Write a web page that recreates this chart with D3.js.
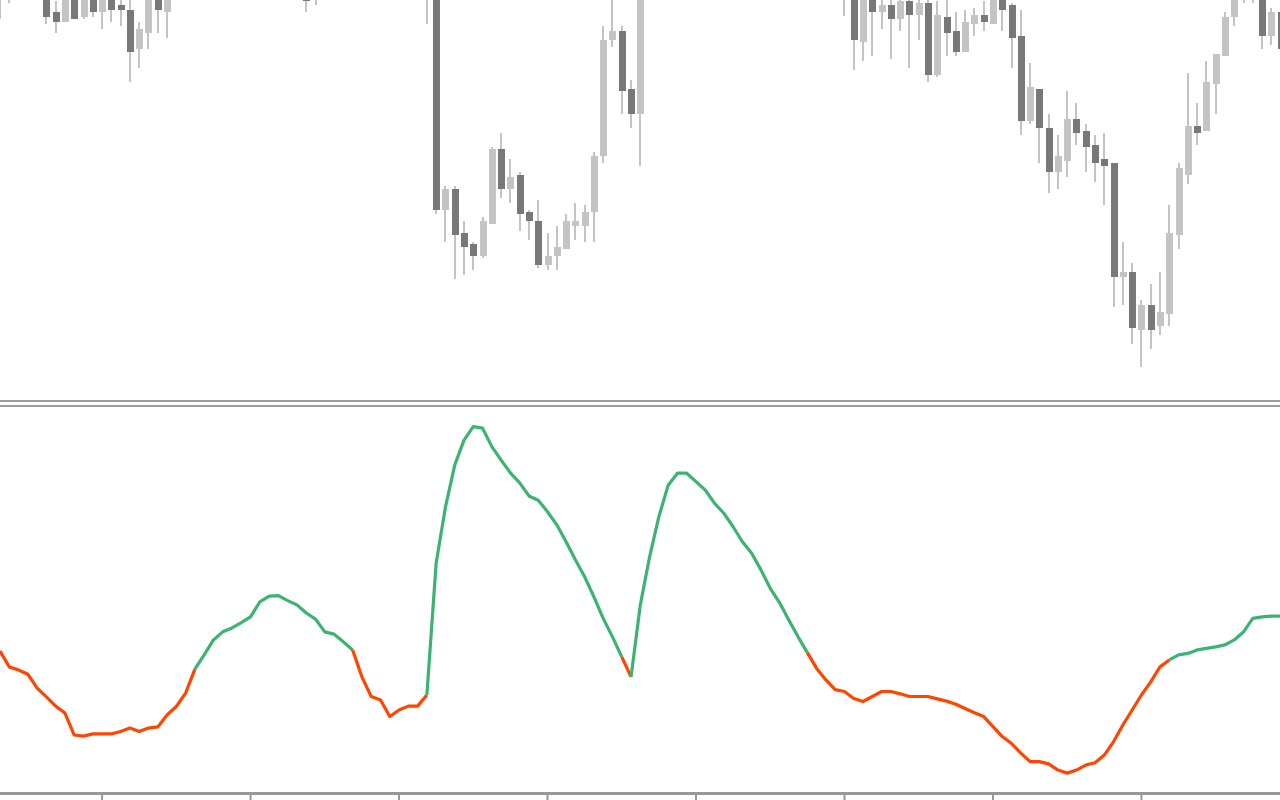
<!DOCTYPE html>
<html><head><meta charset="utf-8">
<script src="https://cdn.jsdelivr.net/npm/d3@7"></script>
<style>html,body{margin:0;padding:0;background:#fff;overflow:hidden}</style>
</head><body>
<svg id="chart" width="1280" height="800"></svg>
<script>
// ---- price bars (OHLC) ----
const open = [
 1.1005,1.1010,1.1020,1.1040,1.1020,1.1015,1.0988,1.0978,1.1010,1.0983,
 1.1005,1.0988,1.1008,1.0995,1.0990,1.0951,1.0967,1.1006,1.0988,1.1010,
 1.1022,1.1035,1.1055,1.1050,1.1072,1.1084,1.1080,1.1100,1.1118,1.1108,
 1.1092,1.1075,1.1068,1.1045,1.1003,1.1025,1.1018,1.1012,1.1016,1.1006,
 1.1020,1.1010,1.1028,1.1040,1.1030,1.1044,1.1038,1.1050,1.0790,1.0811,
 1.0767,1.0756,1.0744,1.0776,1.0851,1.0811,1.0825,1.0788,1.0779,1.0735,
 1.0744,1.0751,1.0774,1.0774,1.0788,1.0844,1.0960,1.0969,1.0911,1.0886,
 1.1020,1.1050,1.1078,1.1070,1.1086,1.1076,1.1064,1.1072,1.1058,1.1046,
 1.1052,1.1036,1.1042,1.1028,1.1034,1.1024,1.1030,1.1016,1.1024,1.1018,
 1.1022,1.1008,1.1020,1.0958,1.1005,1.0988,1.0995,1.0981,1.0999,1.0985,
 1.0997,1.0925,1.0983,1.0969,1.0948,1.0976,1.0985,1.0976,1.1008,1.0995,
 1.0964,1.0879,1.0911,1.0872,1.0828,1.0839,1.0881,1.0869,1.0855,1.0841,
 1.0837,1.0723,1.0728,1.0670,1.0695,1.0674,1.0686,1.0765,1.0825,1.0874,
 1.0869,1.0916,1.0944,1.0983,1.1010,1.1015,1.1025,1.0964,1.0988
];
const high = [
 1.1040,1.1035,1.1050,1.1055,1.1035,1.1025,1.0999,1.1015,1.1018,1.1012,
 1.1014,1.1016,1.1014,1.1006,1.1004,1.0978,1.1012,1.1014,1.1020,1.1028,
 1.1040,1.1060,1.1070,1.1078,1.1090,1.1096,1.1105,1.1125,1.1130,1.1120,
 1.1100,1.1090,1.1075,1.1050,1.1035,1.1040,1.1030,1.1022,1.1020,1.1026,
 1.1030,1.1035,1.1045,1.1048,1.1050,1.1055,1.1055,1.1060,1.0814,1.0814,
 1.0779,1.0758,1.0783,1.0853,1.0867,1.0841,1.0828,1.0790,1.0800,1.0767,
 1.0774,1.0786,1.0797,1.0795,1.0848,1.0974,1.1005,1.0974,1.0920,1.1030,
 1.1060,1.1085,1.1095,1.1092,1.1100,1.1088,1.1080,1.1082,1.1066,1.1060,
 1.1058,1.1048,1.1050,1.1040,1.1044,1.1038,1.1036,1.1030,1.1034,1.1028,
 1.1032,1.1030,1.1028,1.1015,1.1012,1.1004,1.1003,1.1006,1.1008,1.1005,
 1.1006,1.0999,1.1004,1.0988,1.0990,1.0992,1.0999,1.1015,1.1014,1.0997,
 1.0990,1.0937,1.0911,1.0886,1.0865,1.0909,1.0897,1.0876,1.0865,1.0867,
 1.0837,1.0758,1.0737,1.0700,1.0716,1.0728,1.0795,1.0837,1.0927,1.0897,
 1.0939,1.0946,1.0988,1.1020,1.1030,1.1035,1.1030,1.0992,1.0995
];
const low = [
 1.0981,1.0997,1.1008,1.1015,1.1005,1.0976,1.0967,1.0978,1.0981,1.0981,
 1.0983,1.0971,1.0978,1.0974,1.0918,1.0932,1.0951,1.0967,1.0962,1.1004,
 1.1015,1.1030,1.1045,1.1044,1.1066,1.1074,1.1076,1.1095,1.1100,1.1088,
 1.1070,1.1060,1.1040,1.0988,1.0995,1.1012,1.1008,1.1004,1.1002,1.1003,
 1.1005,1.1006,1.1020,1.1022,1.1025,1.1030,1.0976,1.0786,1.0758,1.0721,
 1.0725,1.0730,1.0742,1.0776,1.0802,1.0797,1.0769,1.0760,1.0732,1.0730,
 1.0730,1.0751,1.0760,1.0758,1.0758,1.0837,1.0953,1.0886,1.0872,1.0834,
 1.1015,1.1045,1.1060,1.1062,1.1070,1.1058,1.1055,1.1052,1.1040,1.1038,
 1.1030,1.1028,1.1022,1.1018,1.1020,1.1015,1.1010,1.1008,1.1012,1.1006,
 1.1005,1.0984,1.0930,1.0939,1.0944,1.0971,1.0941,1.0969,1.0932,1.0960,
 1.0918,1.0923,1.0944,1.0944,1.0948,1.0964,1.0969,1.0976,1.0969,1.0932,
 1.0865,1.0876,1.0837,1.0807,1.0811,1.0823,1.0855,1.0828,1.0818,1.0795,
 1.0693,1.0695,1.0656,1.0633,1.0651,1.0665,1.0674,1.0751,1.0816,1.0855,
 1.0869,1.0886,1.0944,1.0974,1.0997,1.0997,1.0951,1.0955,1.0940
];
const close = [
 1.1030,1.1025,1.1040,1.1020,1.1010,1.0983,1.0978,1.1010,1.0981,1.1005,
 1.0988,1.1008,1.0990,1.0990,1.0948,1.0971,1.1006,1.0990,1.1010,1.1022,
 1.1035,1.1055,1.1050,1.1072,1.1084,1.1080,1.1100,1.1118,1.1108,1.1092,
 1.1075,1.1068,1.1045,1.0999,1.1025,1.1018,1.1012,1.1016,1.1006,1.1020,
 1.1010,1.1028,1.1040,1.1030,1.1044,1.1038,1.1050,1.0790,1.0811,1.0765,
 1.0753,1.0744,1.0779,1.0851,1.0811,1.0823,1.0786,1.0779,1.0735,1.0744,
 1.0753,1.0779,1.0779,1.0788,1.0844,1.0960,1.0969,1.0909,1.0886,1.1020,
 1.1050,1.1078,1.1070,1.1086,1.1076,1.1064,1.1072,1.1058,1.1046,1.1052,
 1.1036,1.1042,1.1028,1.1034,1.1024,1.1030,1.1016,1.1024,1.1018,1.1022,
 1.1014,1.1020,1.0960,1.1005,1.0988,1.0995,1.0981,1.0999,1.0985,1.0997,
 1.0925,1.0985,1.0967,1.0948,1.0978,1.0985,1.0978,1.1008,1.0990,1.0962,
 1.0879,1.0913,1.0872,1.0828,1.0844,1.0881,1.0867,1.0853,1.0837,1.0834,
 1.0723,1.0728,1.0672,1.0695,1.0670,1.0688,1.0767,1.0832,1.0874,1.0867,
 1.0918,1.0946,1.0983,1.1010,1.1022,1.1025,1.0964,1.0988,1.0951
];
// ---- oscillator (sub-window) ----
const oscillator = [
 36.6,32.5,31.7,30.6,27.0,24.7,22.3,20.5,14.8,14.5,
 15.1,15.1,15.1,15.7,16.6,15.7,16.6,16.9,20.0,22.2,
 25.7,31.9,35.6,39.5,41.6,42.6,44.0,45.5,49.4,50.9,
 51.0,49.7,48.6,46.5,44.9,41.6,41.0,39.0,36.9,29.9,
 24.8,23.9,19.6,21.3,22.3,22.3,25.2,59.5,74.0,84.9,
 91.4,94.9,94.5,89.7,86.2,82.9,80.3,76.9,75.8,72.8,
 69.4,65.0,60.3,55.9,50.7,45.1,40.3,35.1,29.9,48.6,
 61.1,71.5,79.7,82.8,82.8,80.6,78.4,75.0,72.4,68.9,
 65.0,62.0,57.7,52.9,49.2,44.7,40.3,36.2,32.1,29.1,
 26.6,26.1,24.3,23.5,24.8,26.1,26.1,25.5,24.8,24.8,
 24.8,24.2,23.6,22.8,21.7,20.6,19.6,17.0,14.4,12.6,
 10.1,7.9,7.9,7.3,5.7,4.9,5.7,7.0,7.6,9.6,
 13.1,17.4,21.3,25.2,28.6,32.5,34.3,35.6,36.0,36.9,
 37.3,37.7,38.2,39.5,41.6,45.1,45.5,45.7,45.7
];
// colour state of the segment ending at each bar: 1 = up (green), -1 = down (red)
const trend = [
 -1,-1,-1,-1,-1,-1,-1,-1,-1,-1,-1,-1,-1,-1,-1,-1,-1,-1,-1,-1,-1,-1,
 1,1,1,1,1,1,1,1,1,1,1,1,1,1,1,1,1,
 -1,-1,-1,-1,-1,-1,-1,-1,
 1,1,1,1,1,1,1,1,1,1,1,1,1,1,1,1,1,1,1,1,1,
 -1,
 1,1,1,1,1,1,1,1,1,1,1,1,1,1,1,1,1,1,1,
 -1,-1,-1,-1,-1,-1,-1,-1,-1,-1,-1,-1,-1,-1,-1,-1,-1,-1,-1,-1,
 -1,-1,-1,-1,-1,-1,-1,-1,-1,-1,-1,-1,-1,-1,-1,-1,-1,-1,-1,
 1,1,1,1,1,1,1,1,1,1,1,1
];
// bars carrying a time-axis tick
const tickBars = [11, 27, 43, 59, 75, 91, 107, 123];

const W = 1280, H = 800;
const svg = d3.select('#chart');
svg.append('rect').attr('width', W).attr('height', H).attr('fill', '#ffffff');

const defs = svg.append('defs');
defs.append('clipPath').attr('id', 'clipTop').append('rect')
  .attr('x', 0).attr('y', 0).attr('width', W).attr('height', 399);
defs.append('clipPath').attr('id', 'clipBot').append('rect')
  .attr('x', 0).attr('y', 407).attr('width', W).attr('height', 385);

const bars = d3.range(open.length);
const x = d3.scaleLinear().domain([0, 138]).range([0, 138 * 9.28]);
const yP = d3.scaleLinear().domain([1.06, 1.10]).range([400, 0]);
const yI = d3.scaleLinear().domain([0, 100]).range([792, 407]);

const LIGHT = '#c4c4c4', DARK = '#787878';

// price pane
const pricePane = svg.append('g').attr('clip-path', 'url(#clipTop)').attr('shape-rendering', 'crispEdges');
pricePane.selectAll('rect.wick').data(bars).join('rect')
  .attr('class', 'wick')
  .attr('x', i => Math.round(x(i)) - 1)
  .attr('width', 2)
  .attr('y', i => Math.round(yP(high[i])))
  .attr('height', i => Math.max(1, Math.round(yP(low[i])) - Math.round(yP(high[i]))))
  .attr('fill', LIGHT);
pricePane.selectAll('rect.body').data(bars).join('rect')
  .attr('class', 'body')
  .attr('x', i => Math.round(x(i)) - 3)
  .attr('width', 7)
  .attr('y', i => Math.round(yP(Math.max(open[i], close[i]))))
  .attr('height', i => Math.max(1, Math.round(yP(Math.min(open[i], close[i]))) - Math.round(yP(Math.max(open[i], close[i])))))
  .attr('fill', i => close[i] >= open[i] ? LIGHT : DARK);

// pane separators
svg.append('rect').attr('x', 0).attr('y', 400).attr('width', W).attr('height', 2).attr('fill', '#999ca0');
svg.append('rect').attr('x', 0).attr('y', 405).attr('width', W).attr('height', 2).attr('fill', '#999ca0');

// oscillator pane
const oscPane = svg.append('g').attr('clip-path', 'url(#clipBot)');
const runs = [];
let cur = null;
for (let i = 1; i < oscillator.length; i++) {
  if (!cur || cur.t !== trend[i]) { cur = { t: trend[i], idx: [i - 1] }; runs.push(cur); }
  cur.idx.push(i);
}
const line = d3.line().x(i => x(i)).y(i => yI(oscillator[i]));
oscPane.selectAll('path.osc').data(runs).join('path')
  .attr('class', 'osc')
  .attr('d', r => line(r.idx))
  .attr('fill', 'none')
  .attr('stroke', r => r.t > 0 ? '#3cb371' : '#ff4500')
  .attr('stroke-width', 3.2)
  .attr('stroke-linejoin', 'round')
  .attr('stroke-linecap', 'butt');

// time axis
const axis = d3.axisBottom(x).tickValues(tickBars).tickSize(7).tickSizeOuter(0).tickFormat('').offset(0);
const ag = svg.append('g').attr('transform', 'translate(0,793.5)').call(axis);
ag.select('.domain').attr('stroke', '#98989c').attr('stroke-width', 3)
  .attr('d', 'M0,0H' + W);
ag.selectAll('.tick line').attr('stroke', '#98989c').attr('stroke-width', 2).attr('y1', 1.5);
</script>
</body></html>
